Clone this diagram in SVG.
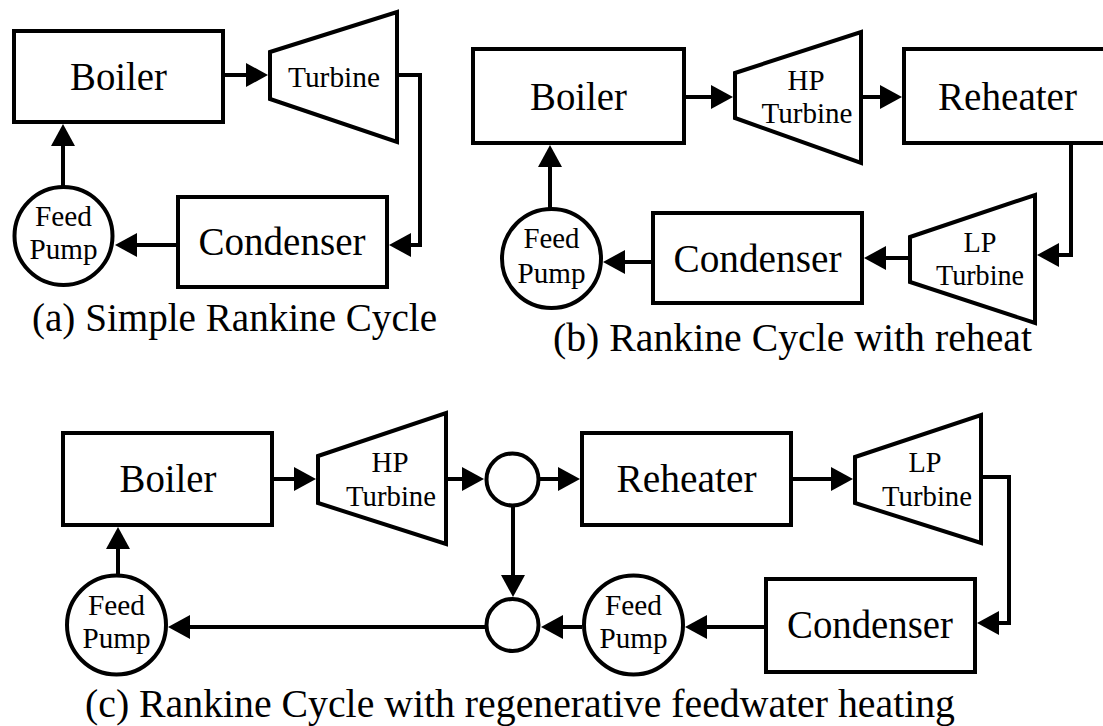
<svg xmlns="http://www.w3.org/2000/svg" width="1103" height="726" viewBox="0 0 1103 726" font-family="'Liberation Serif', 'Times New Roman', Times, serif">
<style>
.box{fill:#fff;stroke:#000;stroke-width:4}
.ln{fill:none;stroke:#000;stroke-width:4}
text{fill:#000;text-anchor:middle;font-family:"Liberation Serif","Times New Roman",Times,serif}
.lb{font-size:39px}
.sm{font-size:29px}
.cap{font-size:40px}
</style>
<defs>
<marker id="ah" markerUnits="userSpaceOnUse" markerWidth="24" markerHeight="24" viewBox="0 0 22 24" refX="18" refY="12" orient="auto">
<path d="M0,0 L22,12 L0,24 z" fill="#000"/>
</marker>
</defs>
<rect width="1103" height="726" fill="#fff"/>

<!-- (a) -->
<g id="a-boiler"><rect class="box" x="14" y="31" width="209" height="91"/><text class="lb" x="118.5" y="90" textLength="97" lengthAdjust="spacingAndGlyphs">Boiler</text></g>
<g id="a-turbine"><polygon class="box" points="270,52 397,12 397,142 270,99"/><text class="sm" x="334" y="87" textLength="92" lengthAdjust="spacingAndGlyphs">Turbine</text></g>
<g id="a-condenser"><rect class="box" x="178" y="197" width="209" height="90"/><text class="lb" x="282" y="255" textLength="167" lengthAdjust="spacingAndGlyphs">Condenser</text></g>
<g id="a-pump"><circle class="box" cx="63.5" cy="236" r="49"/><text class="sm" x="63.5" y="226" textLength="57" lengthAdjust="spacingAndGlyphs">Feed</text><text class="sm" x="63.5" y="259" textLength="68" lengthAdjust="spacingAndGlyphs">Pump</text></g>
<text id="a-caption" class="cap" x="234.5" y="331" textLength="405" lengthAdjust="spacingAndGlyphs">(a) Simple Rankine Cycle</text>

<!-- (b) -->
<g id="b-boiler"><rect class="box" x="473" y="49" width="211" height="94"/><text class="lb" x="578.5" y="110" textLength="97" lengthAdjust="spacingAndGlyphs">Boiler</text></g>
<g id="b-hp"><polygon class="box" points="735,73 861,32 861,163 735,118"/><text class="sm" x="806" y="90" textLength="37" lengthAdjust="spacingAndGlyphs">HP</text><text class="sm" x="807" y="123" textLength="91" lengthAdjust="spacingAndGlyphs">Turbine</text></g>
<g id="b-reheater"><rect class="box" x="904" y="49" width="212" height="94"/><text class="lb" x="1007.5" y="110" textLength="139" lengthAdjust="spacingAndGlyphs">Reheater</text></g>
<g id="b-lp"><polygon class="box" points="910,237 1035,195 1035,323 910,282"/><text class="sm" x="980" y="252" textLength="33" lengthAdjust="spacingAndGlyphs">LP</text><text class="sm" x="980" y="285" textLength="88" lengthAdjust="spacingAndGlyphs">Turbine</text></g>
<g id="b-condenser"><rect class="box" x="653" y="213" width="209" height="90"/><text class="lb" x="757.5" y="272" textLength="168" lengthAdjust="spacingAndGlyphs">Condenser</text></g>
<g id="b-pump"><circle class="box" cx="551.5" cy="258.5" r="49.5"/><text class="sm" x="551.5" y="248" textLength="56" lengthAdjust="spacingAndGlyphs">Feed</text><text class="sm" x="551.5" y="283" textLength="68" lengthAdjust="spacingAndGlyphs">Pump</text></g>
<text id="b-caption" class="cap" x="792.5" y="351" textLength="479" lengthAdjust="spacingAndGlyphs">(b) Rankine Cycle with reheat</text>

<!-- (c) -->
<g id="c-boiler"><rect class="box" x="63" y="433" width="209" height="92"/><text class="lb" x="168" y="492" textLength="97" lengthAdjust="spacingAndGlyphs">Boiler</text></g>
<g id="c-hp"><polygon class="box" points="318,456 446,413 446,544 318,503"/><text class="sm" x="390" y="472" textLength="37" lengthAdjust="spacingAndGlyphs">HP</text><text class="sm" x="391" y="506" textLength="90" lengthAdjust="spacingAndGlyphs">Turbine</text></g>
<g id="c-j1"><circle class="box" cx="512.5" cy="479.5" r="26"/></g>
<g id="c-reheater"><rect class="box" x="582" y="433" width="209" height="92"/><text class="lb" x="686.5" y="492" textLength="140" lengthAdjust="spacingAndGlyphs">Reheater</text></g>
<g id="c-lp"><polygon class="box" points="855,457 981,415 981,543 855,503"/><text class="sm" x="925" y="472" textLength="33" lengthAdjust="spacingAndGlyphs">LP</text><text class="sm" x="927" y="506" textLength="90" lengthAdjust="spacingAndGlyphs">Turbine</text></g>
<g id="c-condenser"><rect class="box" x="766" y="579" width="209" height="93"/><text class="lb" x="870" y="638" textLength="166" lengthAdjust="spacingAndGlyphs">Condenser</text></g>
<g id="c-pump2"><circle class="box" cx="633.5" cy="625" r="49.5"/><text class="sm" x="633.5" y="615" textLength="57" lengthAdjust="spacingAndGlyphs">Feed</text><text class="sm" x="633.5" y="648" textLength="68" lengthAdjust="spacingAndGlyphs">Pump</text></g>
<g id="c-j2"><circle class="box" cx="512.5" cy="625" r="26"/></g>
<g id="c-pump1"><circle class="box" cx="116.5" cy="625" r="49.5"/><text class="sm" x="116.5" y="615" textLength="57" lengthAdjust="spacingAndGlyphs">Feed</text><text class="sm" x="116.5" y="648" textLength="68" lengthAdjust="spacingAndGlyphs">Pump</text></g>
<text id="c-caption" class="cap" x="520" y="717" textLength="870" lengthAdjust="spacingAndGlyphs">(c) Rankine Cycle with regenerative feedwater heating</text>

<g id="connectors">
<path class="ln" marker-end="url(#ah)" d="M223,75 H264"/>
<path class="ln" marker-end="url(#ah)" d="M397,75 H420 V245 H393"/>
<path class="ln" marker-end="url(#ah)" d="M178,245 H119"/>
<path class="ln" marker-end="url(#ah)" d="M63,187 V128"/>

<path class="ln" marker-end="url(#ah)" d="M684,97 H729"/>
<path class="ln" marker-end="url(#ah)" d="M861,97 H898"/>
<path class="ln" marker-end="url(#ah)" d="M1071,143 V255 H1041"/>
<path class="ln" marker-end="url(#ah)" d="M910,258 H868"/>
<path class="ln" marker-end="url(#ah)" d="M653,262 H607"/>
<path class="ln" marker-end="url(#ah)" d="M550,209 V149"/>

<path class="ln" marker-end="url(#ah)" d="M272,479 H312"/>
<path class="ln" marker-end="url(#ah)" d="M446,479 H480"/>
<path class="ln" marker-end="url(#ah)" d="M539,479 H576"/>
<path class="ln" marker-end="url(#ah)" d="M791,479 H849"/>
<path class="ln" marker-end="url(#ah)" d="M981,477 H1009 V623 H981"/>
<path class="ln" marker-end="url(#ah)" d="M766,627 H689"/>
<path class="ln" marker-end="url(#ah)" d="M582,627 H545"/>
<path class="ln" marker-end="url(#ah)" d="M513,506 V593"/>
<path class="ln" marker-end="url(#ah)" d="M485,627 H172"/>
<path class="ln" marker-end="url(#ah)" d="M118,574 V531"/>
</g>
</svg>
